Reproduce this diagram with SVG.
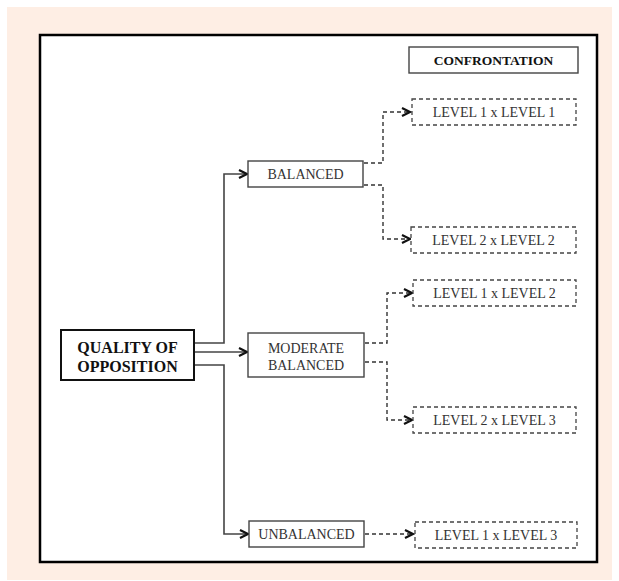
<svg xmlns="http://www.w3.org/2000/svg" width="619" height="581" viewBox="0 0 619 581">
<defs>
<style>
.lbl{font-family:"Liberation Serif","Times New Roman",serif;font-size:14px;fill:#333;text-anchor:middle}
.bold{font-family:"Liberation Serif","Times New Roman",serif;font-weight:bold;fill:#111;text-anchor:middle}
.box{fill:#fff;stroke:#444;stroke-width:1.4}
.dbox{fill:#fff;stroke:#444;stroke-width:1.3;stroke-dasharray:4 3}
.solid{fill:none;stroke:#444;stroke-width:1.6}
.dash{fill:none;stroke:#333;stroke-width:1.4;stroke-dasharray:4 3}
</style>
<marker id="arr" markerUnits="userSpaceOnUse" markerWidth="12" markerHeight="12" refX="9" refY="5" orient="auto">
<path d="M1,1 L9,5 L1,9" fill="none" stroke="#111" stroke-width="2.2"/>
</marker>
</defs>
<rect x="7" y="7" width="605" height="573" fill="#FEEEE4"/>
<rect x="40" y="35" width="557" height="527" fill="#fff" stroke="#000" stroke-width="2.5"/>
<g id="connectors">
<path class="solid" d="M194,343 H224 V174 H247" marker-end="url(#arr)"/>
<path class="solid" d="M194,352 H247" marker-end="url(#arr)"/>
<path class="solid" d="M194,365 H224 V534 H248" marker-end="url(#arr)"/>
<path class="dash" d="M364,163 H383 V112 H410" marker-end="url(#arr)"/>
<path class="dash" d="M364,185 H383 V239 H410" marker-end="url(#arr)"/>
<path class="dash" d="M365,343 H387 V293 H412" marker-end="url(#arr)"/>
<path class="dash" d="M365,362 H387 V420 H412" marker-end="url(#arr)"/>
<path class="dash" d="M365,534 H413" marker-end="url(#arr)"/>
</g>
<g id="confrontation">
<rect class="box" x="409" y="47" width="169" height="26"/>
<text class="bold" x="493.5" y="65" font-size="13.5">CONFRONTATION</text>
</g>
<g id="quality">
<rect x="61" y="330" width="133" height="50" fill="#fff" stroke="#111" stroke-width="2"/>
<text class="bold" x="127.5" y="353" font-size="16">QUALITY OF</text>
<text class="bold" x="127.5" y="372" font-size="16">OPPOSITION</text>
</g>
<g id="balanced">
<rect class="box" x="248" y="161" width="115" height="26"/>
<text class="lbl" x="305.5" y="179">BALANCED</text>
</g>
<g id="moderate">
<rect class="box" x="248" y="333" width="116" height="44"/>
<text class="lbl" x="306" y="353">MODERATE</text>
<text class="lbl" x="306" y="370">BALANCED</text>
</g>
<g id="unbalanced">
<rect class="box" x="249" y="521" width="115" height="26"/>
<text class="lbl" x="306.5" y="539">UNBALANCED</text>
</g>
<g id="l1x1">
<rect class="dbox" x="412" y="99" width="164" height="26"/>
<text class="lbl" x="494" y="117">LEVEL 1 x LEVEL 1</text>
</g>
<g id="l2x2">
<rect class="dbox" x="411" y="227" width="165" height="26"/>
<text class="lbl" x="493.5" y="245">LEVEL 2 x LEVEL 2</text>
</g>
<g id="l1x2">
<rect class="dbox" x="413" y="280" width="163" height="26"/>
<text class="lbl" x="494.5" y="298">LEVEL 1 x LEVEL 2</text>
</g>
<g id="l2x3">
<rect class="dbox" x="413" y="407" width="163" height="26"/>
<text class="lbl" x="494.5" y="425">LEVEL 2 x LEVEL 3</text>
</g>
<g id="l1x3">
<rect class="dbox" x="415" y="522" width="162" height="26"/>
<text class="lbl" x="496" y="540">LEVEL 1 x LEVEL 3</text>
</g>
</svg>
